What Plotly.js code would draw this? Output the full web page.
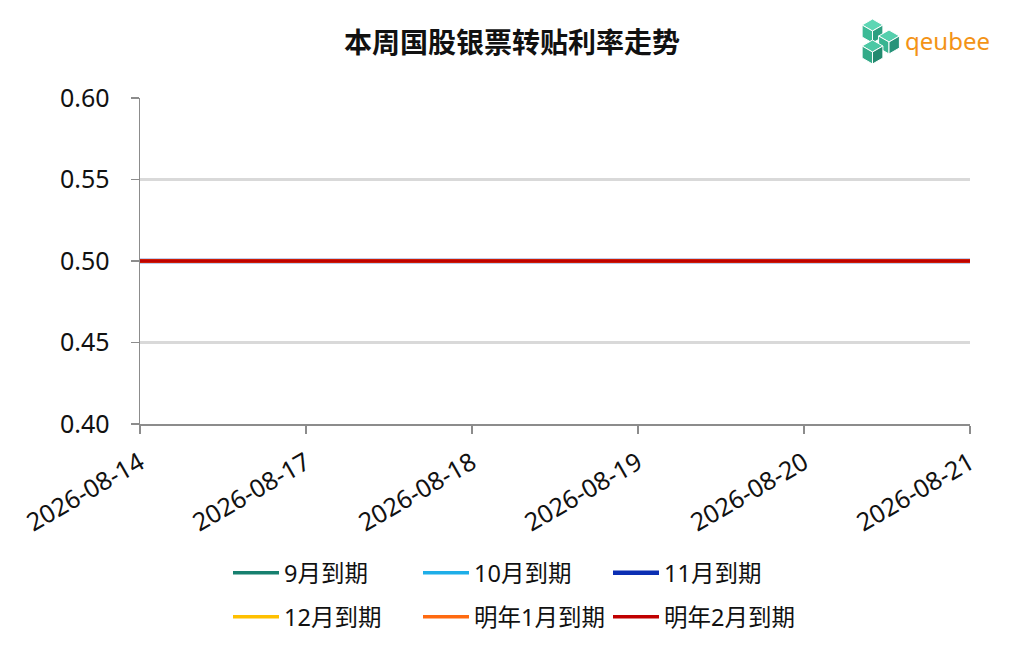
<!DOCTYPE html>
<html>
<head>
<meta charset="utf-8">
<script src="https://cdn.plot.ly/plotly-3.0.1.min.js"></script>
<style>html,body{margin:0;padding:0;background:#fff;}#chart{width:1024px;height:651px;}</style>
</head>
<body>
<div id="chart"></div>
<script>
const dates = ['2026-08-14','2026-08-17','2026-08-18','2026-08-19','2026-08-20','2026-08-21'];
const seriesNames = ['9月到期','10月到期','11月到期','12月到期','明年1月到期','明年2月到期'];
const sep = [0.50,0.50,0.50,0.50,0.50,0.50];
const oct = [0.50,0.50,0.50,0.50,0.50,0.50];
const nov = [0.50,0.50,0.50,0.50,0.50,0.50];
const dec = [0.50,0.50,0.50,0.50,0.50,0.50];
const jan = [0.50,0.50,0.50,0.50,0.50,0.50];
const feb = [0.50,0.50,0.50,0.50,0.50,0.50];
const seriesValues = [sep, oct, nov, dec, jan, feb];
const colors = ['#17806f','#1eaee8','#0b2fb3','#ffc000','#ff6a10','#c00000'];

const FONT = '"Noto Sans", "Noto Sans CJK SC", sans-serif';
const W = 1024, H = 651;
const L = 140, R = 54, T = 98, B = 227;
const px = x => (x - L) / (W - L - R);
const py = y => (H - B - y) / (H - T - B);

const traces = seriesValues.map((v, i) => ({
  type: 'scatter', mode: 'lines', x: dates, y: v, name: seriesNames[i],
  line: {color: colors[i], width: i === 2 ? 4.5 : 3.5},
  legend: i < 3 ? 'legend' : 'legend2'
}));

// logo cubes
function cube(cx, cy, r, cTop, cLeft, cRight) {
  const k = 0.866 * r;
  const P = pts => 'M' + pts.map(p => px(p[0]) + ',' + py(p[1])).join(' L') + ' Z';
  const s = (path, c) => ({type:'path', xref:'paper', yref:'paper', path: path, fillcolor: c, line:{color:'#ffffff', width:1}});
  return [
    s(P([[cx, cy - r],[cx + k, cy - r/2],[cx, cy],[cx - k, cy - r/2]]), cTop),
    s(P([[cx - k, cy - r/2],[cx, cy],[cx, cy + r],[cx - k, cy + r/2]]), cLeft),
    s(P([[cx, cy],[cx + k, cy - r/2],[cx + k, cy + r/2],[cx, cy + r]]), cRight)
  ];
}
const shapes = [].concat(
  cube(872.5, 31, 12, '#5dd6b4', '#3cba96', '#2d9f80'),
  cube(889, 42, 12, '#55cfad', '#38b491', '#27937a'),
  cube(872.5, 52, 12, '#4cc8a4', '#33aa88', '#238a6f')
);

const legendCommon = {orientation: 'h', x: px(228), xanchor: 'left', yanchor: 'middle',
  entrywidth: 129, font: {size: 23.5, family: FONT, color: '#111111'}, bgcolor: 'rgba(0,0,0,0)', itemwidth: 46, traceorder: 'normal'};

const layout = {
  width: W, height: H,
  margin: {l: L, r: R, t: T, b: B},
  paper_bgcolor: '#ffffff', plot_bgcolor: '#ffffff',
  font: {family: FONT, color: '#111111', size: 20},
  title: {text: '<b>本周国股银票转贴利率走势</b>', font: {family: '"Noto Sans CJK SC", sans-serif', size: 28, color: '#111111'},
          x: 0.5, xref: 'container', xanchor: 'center', y: 1 - 43 / H, yref: 'container', yanchor: 'middle'},
  xaxis: {
    type: 'category', range: [0, dates.length - 1], showgrid: false, zeroline: false,
    showline: true, linecolor: '#8c8c8c', linewidth: 1.5,
    ticks: 'outside', ticklen: 8, tickcolor: '#8c8c8c', tickwidth: 1.5,
    tickangle: -30, tickfont: {size: 25, family: FONT, color: '#111111'}, ticklabelstandoff: 5
  },
  yaxis: {
    range: [0.40, 0.60], dtick: 0.05, tick0: 0.40, tickformat: '.2f',
    showgrid: true, gridcolor: '#d9d9d9', gridwidth: 2.5, zeroline: false,
    showline: true, linecolor: '#8c8c8c', linewidth: 1.5,
    ticks: 'outside', ticklen: 8, tickcolor: '#8c8c8c', tickwidth: 1.5,
    tickfont: {size: 25, family: FONT, color: '#111111'}, ticklabelstandoff: 16
  },
  showlegend: true,
  legend: Object.assign({}, legendCommon, {y: py(573)}),
  legend2: Object.assign({}, legendCommon, {y: py(617)}),
  shapes: shapes,
  annotations: [{text: 'qeubee', xref: 'paper', yref: 'paper', x: px(903), y: py(41), xanchor: 'left', yanchor: 'middle',
                 showarrow: false, font: {family: '"Noto Sans", sans-serif', size: 24, color: '#f39316'}}]
};

Plotly.newPlot('chart', traces, layout, {displayModeBar: false, staticPlot: true});
</script>
</body>
</html>
